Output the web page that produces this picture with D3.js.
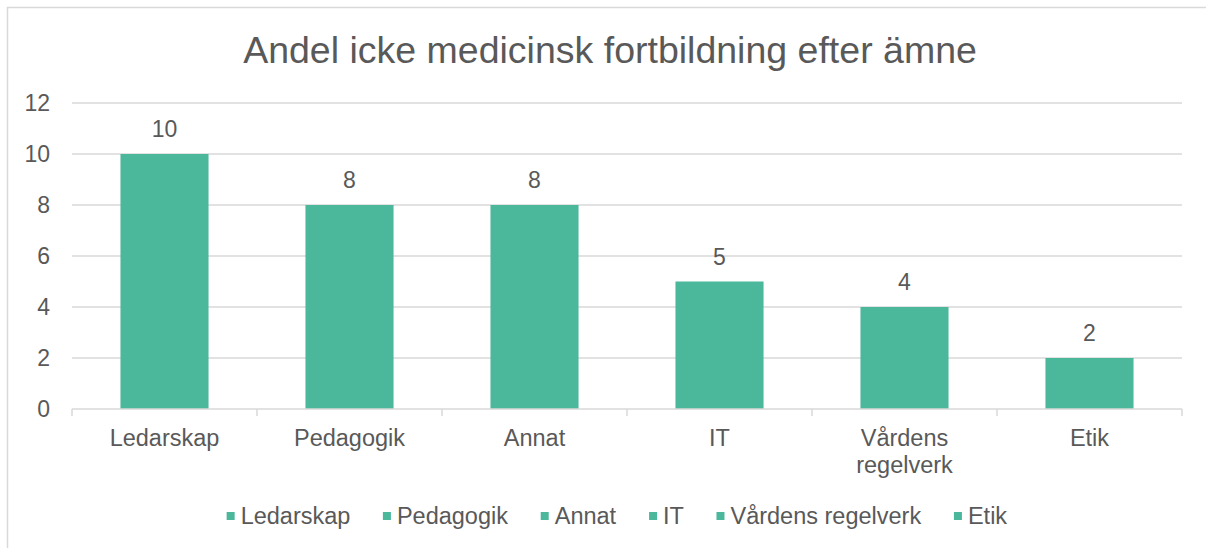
<!DOCTYPE html>
<html>
<head>
<meta charset="utf-8">
<script src="https://cdn.jsdelivr.net/npm/d3@7"></script>
<style>
  body { margin: 0; background: #fff; }
  text { font-family: "Liberation Sans", Arial, sans-serif; fill: #595959; }
</style>
</head>
<body>
<div id="chart"></div>
<script>
// data
var categories = ["Ledarskap", "Pedagogik", "Annat", "IT", "Vårdens regelverk", "Etik"];
var catLabels = [["Ledarskap"], ["Pedagogik"], ["Annat"], ["IT"], ["Vårdens", "regelverk"], ["Etik"]];
var values = [10, 8, 8, 5, 4, 2];
var yTicks = [0, 2, 4, 6, 8, 10, 12];

var width = 1206, height = 548;
var margin = {left: 72, right: 24, top: 103, bottom: 139};
var barColor = "#4bb79b";

var svg = d3.select("#chart").append("svg")
  .attr("width", width)
  .attr("height", height);

// chart border
svg.append("rect")
  .attr("x", 7.5).attr("y", 7.5)
  .attr("width", width + 10).attr("height", height + 10)
  .attr("fill", "none")
  .attr("stroke", "#d9d9d9")
  .attr("stroke-width", 1.5);

svg.append("text")
  .attr("x", 610).attr("y", 63)
  .attr("text-anchor", "middle")
  .style("font-size", "37.5px")
  .text("Andel icke medicinsk fortbildning efter ämne");

var x = d3.scaleBand()
  .domain(categories)
  .range([margin.left, width - margin.right])
  .paddingInner(0.524)
  .paddingOuter(0.262);

var xOuter = d3.scaleBand()
  .domain(categories)
  .range([margin.left, width - margin.right]);

var y = d3.scaleLinear()
  .domain([0, 12])
  .range([height - margin.bottom, margin.top]);

// gridlines
svg.append("g")
  .selectAll("line")
  .data(yTicks.slice(1))
  .enter()
  .append("line")
  .attr("x1", margin.left).attr("x2", width - margin.right)
  .attr("y1", function(d) { return y(d); })
  .attr("y2", function(d) { return y(d); })
  .attr("stroke", "#d9d9d9")
  .attr("stroke-width", 1.5);

// y labels
svg.append("g")
  .selectAll("text")
  .data(yTicks)
  .enter()
  .append("text")
  .attr("x", 50)
  .attr("y", function(d) { return y(d); })
  .attr("dy", "0.35em")
  .attr("text-anchor", "end")
  .style("font-size", "23px")
  .text(function(d) { return d; });

// bars
svg.append("g")
  .selectAll("rect")
  .data(values)
  .enter()
  .append("rect")
  .attr("x", function(d, i) { return x(categories[i]); })
  .attr("y", function(d) { return y(d); })
  .attr("width", x.bandwidth())
  .attr("height", function(d) { return y(0) - y(d); })
  .attr("fill", barColor);

// x axis
var axisY = y(0);
svg.append("line")
  .attr("x1", margin.left).attr("x2", width - margin.right)
  .attr("y1", axisY).attr("y2", axisY)
  .attr("stroke", "#d9d9d9")
  .attr("stroke-width", 1.5);

var tickXs = categories.map(function(c) { return xOuter(c); });
tickXs.push(width - margin.right);
svg.append("g")
  .selectAll("line")
  .data(tickXs)
  .enter()
  .append("line")
  .attr("x1", function(d) { return d; })
  .attr("x2", function(d) { return d; })
  .attr("y1", axisY).attr("y2", axisY + 7)
  .attr("stroke", "#d9d9d9")
  .attr("stroke-width", 1.5);

// value labels
svg.append("g")
  .selectAll("text")
  .data(values)
  .enter()
  .append("text")
  .attr("x", function(d, i) { return x(categories[i]) + x.bandwidth() / 2; })
  .attr("y", function(d) { return y(d) - 17; })
  .attr("text-anchor", "middle")
  .style("font-size", "23px")
  .text(function(d) { return d; });

// category labels
catLabels.forEach(function(lines, i) {
  var t = svg.append("text")
    .attr("text-anchor", "middle")
    .style("font-size", "23.5px");
  lines.forEach(function(line, j) {
    t.append("tspan")
      .attr("x", x(categories[i]) + x.bandwidth() / 2)
      .attr("y", 446 + j * 27)
      .text(line);
  });
});

// legend
var legend = svg.append("g");
var items = legend.selectAll("g")
  .data(categories)
  .enter()
  .append("g");
items.append("rect")
  .attr("width", 8).attr("height", 8)
  .attr("y", -12)
  .attr("fill", barColor);
items.append("text")
  .attr("x", 14)
  .style("font-size", "23.5px")
  .text(function(d) { return d; });

var offs = [], total = 0, gap = 32.5;
items.each(function(d, i) {
  offs.push(total);
  total += this.getBBox().width + (i < categories.length - 1 ? gap : 0);
});
var start = 617 - total / 2;
items.attr("transform", function(d, i) { return "translate(" + (start + offs[i]) + ",524)"; });
</script>
</body>
</html>
